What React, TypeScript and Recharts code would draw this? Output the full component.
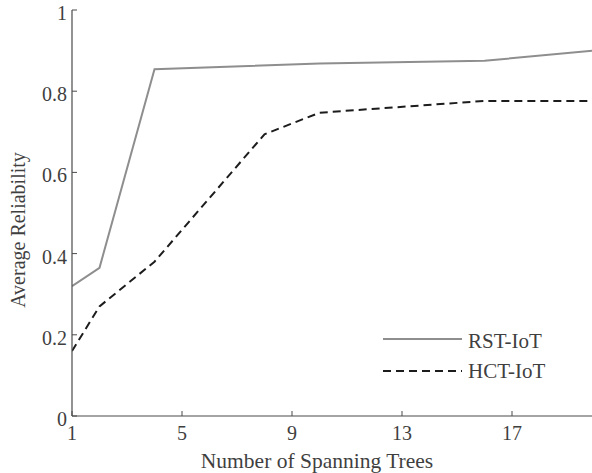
import React from 'react';
import { LineChart, Line, XAxis, YAxis, Legend } from 'recharts';

const rstX = [1, 2, 4, 10, 16, 20];
const rstY = [0.32, 0.365, 0.854, 0.868, 0.875, 0.9];
const hctX = [1, 2, 4, 8, 10, 16, 20];
const hctY = [0.16, 0.27, 0.38, 0.694, 0.747, 0.776, 0.776];
const xTicks = [1, 5, 9, 13, 17];
const yTicks = [0, 0.2, 0.4, 0.6, 0.8, 1];
const seriesNames = ['RST-IoT', 'HCT-IoT'];

const rstData = rstX.map((x, i) => ({ x, y: rstY[i] }));
const hctData = hctX.map((x, i) => ({ x, y: hctY[i] }));

const FONT = '"Liberation Serif", serif';
const TEXT = '#3f3f3f';
const AXIS = '#4a4a4a';
const GRAY = '#8e8e8e';
const DARK = '#1c1c1c';
const DASH = '8 5';
const TL = 5;

const BottomTick = (props: any) => {
  const { x, y, payload } = props;
  return (
    <g>
      <line x1={x} x2={x} y1={y} y2={y - TL} stroke={AXIS} strokeWidth={1} />
      <text x={x} y={y + 24} textAnchor="middle" fontFamily={FONT} fontSize={20} fill={TEXT}>
        {payload.value}
      </text>
    </g>
  );
};
const TopTick = (props: any) => {
  const { x, y } = props;
  return <line x1={x} x2={x} y1={y} y2={y + TL} stroke={AXIS} strokeWidth={1} />;
};
const LeftTick = (props: any) => {
  const { x, y, payload } = props;
  return (
    <g>
      <line x1={x} x2={x + TL} y1={y} y2={y} stroke={AXIS} strokeWidth={1} />
      <text x={x - 5} y={y + 10} textAnchor="end" fontFamily={FONT} fontSize={20} fill={TEXT}>
        {String(payload.value)}
      </text>
    </g>
  );
};
const RightTick = (props: any) => {
  const { x, y } = props;
  return <line x1={x} x2={x - TL} y1={y} y2={y} stroke={AXIS} strokeWidth={1} />;
};

const LegendContent = () => (
  <svg width={180} height={62}>
    <line x1={3} x2={82} y1={14} y2={14} stroke={GRAY} strokeWidth={2} />
    <text x={88} y={23} fontFamily={FONT} fontSize={21} fill={TEXT}>{seriesNames[0]}</text>
    <line x1={3} x2={82} y1={46} y2={46} stroke={DARK} strokeWidth={2} strokeDasharray={DASH} />
    <text x={88} y={53} fontFamily={FONT} fontSize={21} fill={TEXT}>{seriesNames[1]}</text>
  </svg>
);

const XLabel = (props: any) => {
  const { viewBox } = props;
  return (
    <text x={317} y={viewBox.y + 52} textAnchor="middle" fontFamily={FONT} fontSize={21.5} fill={TEXT}>
      Number of Spanning Trees
    </text>
  );
};
const YLabel = () => {
  const cx = 18;
  const cy = 230;
  return (
    <text x={cx} y={cy} transform={`rotate(-90, ${cx}, ${cy})`} textAnchor="middle" dominantBaseline="central" fontFamily={FONT} fontSize={20} fill={TEXT}>
      Average Reliability
    </text>
  );
};

export default function App() {
  return (
    <div style={{ position: 'absolute', left: 0, top: 0, width: 592, height: 473, overflow: 'hidden', background: '#fff' }}>
      <LineChart width={600} height={473} margin={{ top: 10, right: 5.5, left: 0, bottom: 0 }}>
        <XAxis xAxisId="b" dataKey="x" type="number" domain={[1, 20]} ticks={xTicks} orientation="bottom" height={57}
          tickSize={0} tickMargin={0} tickLine={false} tick={<BottomTick />} axisLine={{ stroke: AXIS, strokeWidth: 1.2 }}
          allowDataOverflow interval={0} label={<XLabel />} />
        <XAxis xAxisId="t" dataKey="x" type="number" domain={[1, 20]} ticks={xTicks} orientation="top" height={0}
          tickSize={0} tickMargin={0} tickLine={false} tick={<TopTick />} axisLine={{ stroke: AXIS, strokeWidth: 1.2 }}
          allowDataOverflow interval={0} />
        <YAxis yAxisId="l" dataKey="y" type="number" domain={[0, 1]} ticks={yTicks} orientation="left" width={72}
          tickSize={0} tickMargin={0} tickLine={false} tick={<LeftTick />} axisLine={{ stroke: AXIS, strokeWidth: 1.2 }}
          allowDataOverflow interval={0} label={<YLabel />} />
        <YAxis yAxisId="r" dataKey="y" type="number" domain={[0, 1]} ticks={yTicks} orientation="right" width={0}
          tickSize={0} tickMargin={0} tickLine={false} tick={<RightTick />} axisLine={{ stroke: AXIS, strokeWidth: 1.2 }}
          allowDataOverflow interval={0} />
        <Line xAxisId="b" yAxisId="l" data={rstData} dataKey="y" name={seriesNames[0]} type="linear" stroke={GRAY}
          strokeWidth={2} dot={false} activeDot={false} isAnimationActive={false} />
        <Line xAxisId="b" yAxisId="l" data={hctData} dataKey="y" name={seriesNames[1]} type="linear" stroke={DARK}
          strokeWidth={2} strokeDasharray={DASH} dot={false} activeDot={false} isAnimationActive={false} />
        <Legend layout="vertical" align="center" verticalAlign="middle" content={<LegendContent />}
          wrapperStyle={{ position: 'absolute', left: 380, top: 325, width: 180, height: 62 }} />
      </LineChart>
    </div>
  );
}
